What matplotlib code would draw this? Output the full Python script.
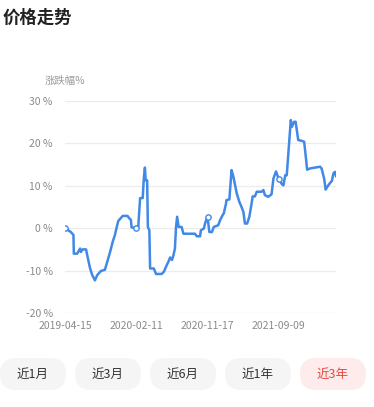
import matplotlib
matplotlib.use('Agg')
import matplotlib.pyplot as plt
from matplotlib.patches import FancyBboxPatch

plt.rcParams['font.family'] = ['Noto Sans CJK SC', 'DejaVu Sans']

# trading-day index vs. change in %
days = [0, 8, 15, 22, 23, 32, 40, 42, 47, 56, 62, 67, 73, 80, 86, 96, 107, 113,
        121, 128, 134, 139, 143, 155, 168, 173, 177, 179, 191, 197, 202, 209, 212,
        215, 217, 221, 223, 227, 229, 239, 245, 260, 266, 274, 278, 283, 288, 292,
        296, 299, 302, 306, 314, 319, 350, 355, 364, 366, 374, 378, 384, 389, 396,
        401, 413, 418, 425, 428, 434, 435, 443, 449, 454, 463, 470, 476, 481, 485,
        491, 497, 503, 506, 512, 517, 530, 535, 539, 548, 557, 562, 569, 576, 584,
        589, 594, 598, 605, 609, 612, 618, 622, 629, 638, 645, 650, 653, 661, 688,
        692, 699, 703, 710, 720, 724, 728, 731]
change = [0.0, -0.5, -0.9, -1.6, -6.0, -6.0, -4.8, -5.6, -5.0, -5.0, -7.5, -9.5,
          -11.1, -12.3, -11.1, -10.1, -9.8, -8.0, -5.6, -3.2, -1.6, 0.3, 1.7, 2.9,
          2.9, 2.3, 2.0, 0.2, 0.0, 0.3, 7.1, 7.1, 11.7, 14.3, 11.3, 11.3, 0.3, -0.5,
          -9.5, -9.5, -10.8, -10.8, -10.3, -8.7, -8.0, -6.9, -7.5, -6.4, -4.8, 0.3,
          2.7, 0.3, 0.3, -1.3, -1.3, -1.9, -1.9, -0.5, -0.1, 1.3, 2.7, -0.9, -0.9,
          0.3, 0.7, 1.9, 3.1, 3.5, 5.8, 6.6, 6.8, 13.7, 12.1, 8.2, 6.2, 5.0, 3.8,
          1.1, 1.1, 2.7, 5.8, 7.5, 7.5, 8.6, 8.6, 9.0, 7.8, 7.4, 8.0, 11.7, 13.4,
          11.7, 10.5, 10.1, 12.5, 12.5, 20.8, 25.5, 23.9, 25.1, 25.1, 20.8, 20.6,
          20.4, 16.4, 13.8, 14.1, 14.5, 14.1, 11.7, 9.1, 10.1, 11.2, 12.9, 13.3, 12.3]

tick_days = [0, 191, 384, 576]
tick_labels = ['2019-04-15', '2020-02-11', '2020-11-17', '2021-09-09']
y_ticks = [-20, -10, 0, 10, 20, 30]
buttons = ['近1月', '近3月', '近6月', '近1年', '近3年']
active = '近3年'

W, H = 374, 407
fig = plt.figure(figsize=(W / 100, H / 100), dpi=100)

# overlay in pixel coordinates for title and buttons
bg = fig.add_axes([0, 0, 1, 1])
bg.set_xlim(0, W)
bg.set_ylim(H, 0)
bg.axis('off')

bg.text(3, 18, '价格走势', fontsize=12.5, fontweight='bold', color='#222222',
        ha='left', va='center')
bg.text(65, 81, '涨跌幅%', fontsize=7.5, color='#9a9a9a', ha='center', va='center')

for i, name in enumerate(buttons):
    x0 = i * 75
    on = name == active
    bg.add_patch(FancyBboxPatch((x0, 358), 66, 32,
                                boxstyle='round,pad=0,rounding_size=16',
                                fc='#fdeceb' if on else '#f5f5f5', ec='none'))
    bg.text(x0 + 33, 374, name, fontsize=9, color='#e8453c' if on else '#333333',
            ha='center', va='center')

ax = fig.add_axes([65.3 / W, 94 / H, 270.7 / W, 212 / H])
ax.plot(days, change, color='#4089e6', lw=1.8, solid_joinstyle='round', zorder=3)
mark_y = [change[days.index(d)] for d in tick_days]
ax.plot(tick_days, mark_y, 'o', ms=3.8, mfc='white', mec='#4089e6', mew=1.0, zorder=4)

ax.set_xlim(0, 731)
ax.set_ylim(-20, 30)
ax.set_yticks(y_ticks)
ax.set_yticklabels([f'{v} %' for v in y_ticks])
ax.set_xticks(tick_days)
ax.set_xticklabels(tick_labels)
ax.tick_params(length=0, labelsize=7.5, labelcolor='#8a8a8a')
ax.tick_params(axis='y', pad=9)
ax.tick_params(axis='x', pad=6)
ax.grid(axis='y', color='#ececec', lw=0.9)
for s in ax.spines.values():
    s.set_visible(False)
ax.patch.set_alpha(0)

fig.savefig('out.png', dpi=100)
